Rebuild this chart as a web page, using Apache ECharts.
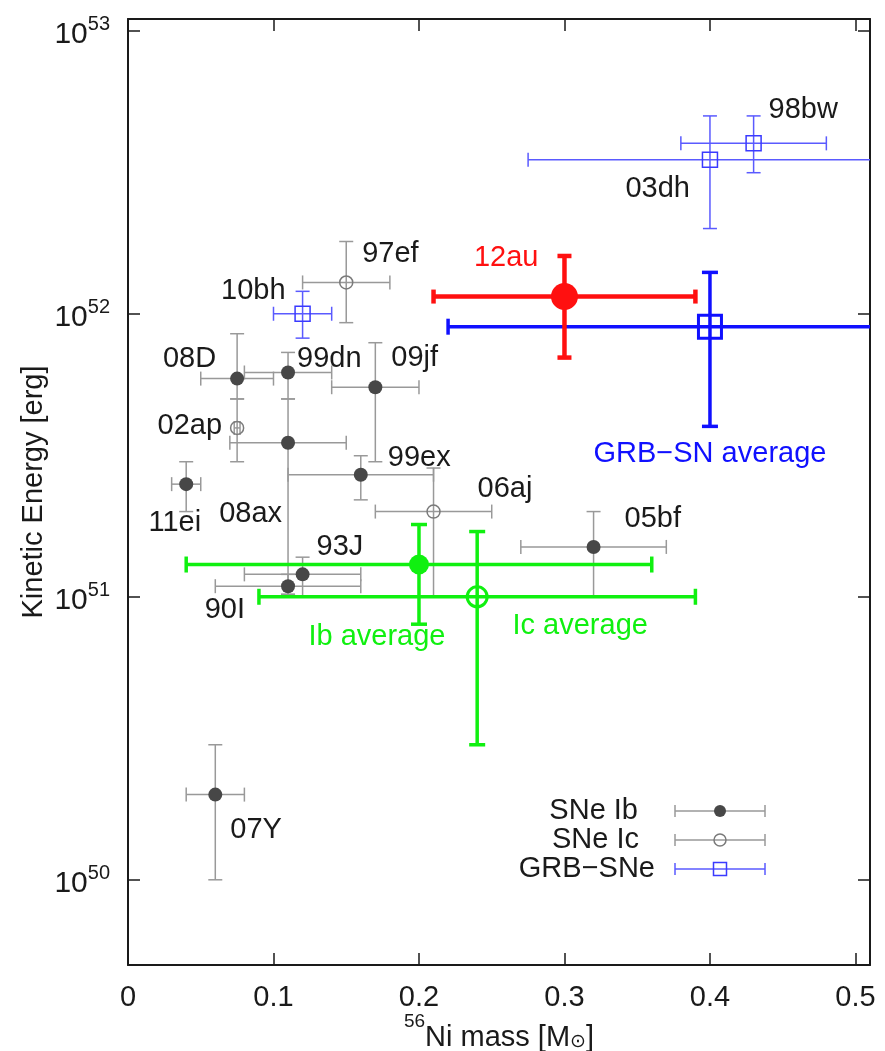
<!DOCTYPE html>
<html>
<head>
<meta charset="utf-8">
<script src="https://cdn.jsdelivr.net/npm/echarts@6/dist/echarts.min.js"></script>
<style>
  html, body { margin: 0; padding: 0; background: #fff; }
  #chart { width: 885px; height: 1051px; }
</style>
</head>
<body>
<div id="chart"></div>
<script>
// rows: [name, Ni mass, mass low, mass high, E_k, E low, E high]
const snIb = [
  ['08D', 0.075, 0.05, 0.10, 5.9e51, 5.0e51, 8.5e51],
  ['99dn', 0.11, 0.08, 0.14, 6.2e51, 5.0e51, 7.3e51],
  ['09jf', 0.17, 0.14, 0.20, 5.5e51, 3.0e51, 7.9e51],
  ['08ax', 0.11, 0.07, 0.15, 3.5e51, 1.02e51, 5.0e51],
  ['99ex', 0.16, 0.11, 0.21, 2.7e51, 2.2e51, 3.15e51],
  ['11ei', 0.04, 0.03, 0.05, 2.5e51, 2.0e51, 3.0e51],
  ['05bf', 0.32, 0.27, 0.37, 1.5e51, 1.0e51, 2.0e51],
  ['93J', 0.12, 0.08, 0.16, 1.2e51, 1.0e51, 1.38e51],
  ['90I', 0.11, 0.06, 0.16, 1.09e51, 1.02e51, 1.2e51],
  ['07Y', 0.06, 0.04, 0.08, 2.0e50, 1.0e50, 3.0e50],
];
const snIc = [
  ['97ef', 0.15, 0.12, 0.18, 1.29e52, 9.3e51, 1.8e52],
  ['02ap', 0.075, 0.073, 0.077, 3.95e51, 3.0e51, 5.0e51],
  ['06aj', 0.21, 0.17, 0.25, 2.0e51, 1.0e51, 2.85e51],
];
const grbSne = [
  ['98bw', 0.43, 0.38, 0.48, 4.0e52, 3.15e52, 5.0e52],
  ['03dh', 0.40, 0.275, 0.525, 3.5e52, 2.0e52, 5.0e52],
  ['10bh', 0.12, 0.10, 0.14, 1.0e52, 8.2e51, 1.2e52],
];
const ibAverage = [['Ib average', 0.20, 0.04, 0.36, 1.3e51, 8.0e50, 1.8e51]];
const icAverage = [['Ic average', 0.24, 0.09, 0.39, 1.0e51, 3.0e50, 1.7e51]];
const grbAverage = [['GRB\u2212SN average', 0.40, 0.22, 0.58, 9.0e51, 4.0e51, 1.4e52]];
const sn12au = [['12au', 0.30, 0.21, 0.39, 1.15e52, 7.0e51, 1.6e52]];

const xTicks = [0, 0.1, 0.2, 0.3, 0.4, 0.5];
const legendNames = ['SNe Ib', 'SNe Ic', 'GRB\u2212SNe'];

// label placement relative to the point, in px
const labelPos = {
  '98bw': [15, -33, 'left'], '03dh': [-20, 29, 'right'], '97ef': [16, -28, 'left'],
  '12au': [-26, -39, 'right'], '10bh': [-17, -23, 'right'], '08D': [-21, -20, 'right'],
  '99dn': [9, -14, 'left'], '09jf': [16, -29, 'left'], '02ap': [-15, -2, 'right'],
  '99ex': [27, -17, 'left'], '06aj': [44, -23, 'left'], '11ei': [15, 39, 'right'],
  '08ax': [-6, 71, 'right'], '93J': [14, -27, 'left'], '90I': [-43, 24, 'right'],
  '05bf': [31, -28, 'left'], '07Y': [15, 35, 'left'],
  'GRB\u2212SN average': [0, 127, 'center'], 'Ib average': [-42, 72, 'center'],
  'Ic average': [103, 29, 'center'],
};

const FONT = '29px "Liberation Sans", Arial, sans-serif';
const GRAY = '#999999';

const styles = {
  ib: { line: GRAY, width: 1.5, cap: 7, marker: 'dot', size: 7, color: '#474747', text: '#1a1a1a' },
  ic: { line: GRAY, width: 1.5, cap: 7, marker: 'ring', size: 6.5, color: '#7a7a7a', mw: 1.5, text: '#1a1a1a' },
  grb: { line: '#5a5aff', width: 1.5, cap: 7, marker: 'square', size: 15, color: '#3a3aff', mw: 1.5, text: '#1a1a1a' },
  ibAvg: { line: '#10f010', width: 3.5, cap: 8, marker: 'dot', size: 10, color: '#10f010', text: '#10f010' },
  icAvg: { line: '#10f010', width: 3.5, cap: 8, marker: 'ring', size: 10, color: '#10f010', mw: 3, text: '#10f010' },
  grbAvg: { line: '#1010ff', width: 3.5, cap: 8, marker: 'square', size: 23, color: '#1010ff', mw: 3, text: '#1010ff' },
  au: { line: '#ff1010', width: 4.5, cap: 7, marker: 'dot', size: 13.5, color: '#ff1010', text: '#ff1010' },
};

function seg(x1, y1, x2, y2, st) {
  return { type: 'line', shape: { x1, y1, x2, y2 }, style: { stroke: st.line, lineWidth: st.width }, z2: 1 };
}

function markerEl(p, st) {
  if (st.marker === 'dot') {
    return { type: 'circle', shape: { cx: p[0], cy: p[1], r: st.size }, style: { fill: st.color }, z2: 5 };
  }
  if (st.marker === 'ring') {
    return { type: 'circle', shape: { cx: p[0], cy: p[1], r: st.size }, style: { fill: 'none', stroke: st.color, lineWidth: st.mw }, z2: 5 };
  }
  const h = st.size / 2;
  return { type: 'rect', shape: { x: p[0] - h, y: p[1] - h, width: st.size, height: st.size }, style: { fill: 'none', stroke: st.color, lineWidth: st.mw }, z2: 5 };
}

function errorSeries(rows, st, z) {
  return {
    type: 'custom',
    coordinateSystem: 'cartesian2d',
    clip: true,
    z,
    encode: { x: [0, 1, 2], y: [3, 4, 5] },
    data: rows.map((r) => r.slice(1)),
    renderItem(params, api) {
      const r = rows[params.dataIndex];
      const p = api.coord([r[1], r[4]]);
      const xl = api.coord([r[2], r[4]])[0];
      const xh = api.coord([r[3], r[4]])[0];
      const yl = api.coord([r[1], r[5]])[1];
      const yh = api.coord([r[1], r[6]])[1];
      const c = st.cap;
      const children = [
        seg(xl, p[1], xh, p[1], st),
        seg(p[0], yh, p[0], yl, st),
        seg(xl, p[1] - c, xl, p[1] + c, st),
        seg(xh, p[1] - c, xh, p[1] + c, st),
        seg(p[0] - c, yh, p[0] + c, yh, st),
        seg(p[0] - c, yl, p[0] + c, yl, st),
        markerEl(p, st),
      ];
      const lp = labelPos[r[0]];
      if (lp) {
        children.push({
          type: 'text', x: p[0] + lp[0], y: p[1] + lp[1], z2: 10,
          style: { text: r[0], font: FONT, fill: st.text, align: lp[2], verticalAlign: 'middle' },
        });
      }
      return { type: 'group', children };
    },
  };
}

function legendGraphic() {
  const keys = ['ib', 'ic', 'grb'];
  const textRight = [638, 639, 655];
  const out = [];
  legendNames.forEach((name, i) => {
    const st = styles[keys[i]];
    const y = 811 + 29 * i;
    const small = Object.assign({}, st, st.marker === 'square' ? { size: 13 } : { size: 6 });
    out.push({ type: 'text', x: textRight[i], y, style: { text: name, font: FONT, fill: '#1a1a1a', align: 'right', verticalAlign: 'middle' } });
    out.push(seg(675, y, 765, y, st), seg(675, y - 6, 675, y + 6, st), seg(765, y - 6, 765, y + 6, st));
    out.push(markerEl([720, y], small));
  });
  return out;
}

const chart = echarts.init(document.getElementById('chart'));

const frameLine = { show: true, onZero: false, lineStyle: { color: '#1a1a1a', width: 2 } };
const tickIn = { show: true, inside: true, length: 12, lineStyle: { color: '#1a1a1a', width: 1.5 } };

chart.setOption({
  animation: false,
  backgroundColor: '#ffffff',
  grid: { left: 128, right: 15, top: 19, bottom: 86, containLabel: false, outerBoundsMode: 'none' },
  xAxis: [
    {
      type: 'value', min: 0, max: 0.51, interval: 0.1, position: 'bottom',
      axisLine: frameLine, axisTick: tickIn, splitLine: { show: false },
      axisLabel: {
        margin: 18, color: '#1a1a1a', fontSize: 29, fontFamily: 'Liberation Sans',
        showMaxLabel: false,
        formatter: (v) => (xTicks.some((t) => Math.abs(t - v) < 1e-9) ? String(+v.toFixed(1)) : ''),
      },
      name: '{s|56}{n|Ni mass [M}{o|\u2299}{n|]}',
      nameLocation: 'middle', nameGap: 47, nameMoveOverlap: false,
      nameTextStyle: {
        color: '#1a1a1a', fontFamily: 'Liberation Sans',
        rich: {
          n: { fontSize: 29, lineHeight: 40, verticalAlign: 'bottom', fontFamily: 'Liberation Sans', color: '#1a1a1a' },
          s: { fontSize: 19, lineHeight: 19, verticalAlign: 'top', fontFamily: 'Liberation Sans', color: '#1a1a1a' },
          o: { fontSize: 19, lineHeight: 28, verticalAlign: 'bottom', fontFamily: 'DejaVu Sans', color: '#1a1a1a' },
        },
      },
    },
    {
      type: 'value', min: 0, max: 0.51, interval: 0.1, position: 'top',
      axisLine: frameLine, axisTick: tickIn, axisLabel: { show: false }, splitLine: { show: false },
    },
  ],
  yAxis: [
    {
      type: 'log', logBase: 10, min: 5e49, max: 1.1e53, position: 'left',
      axisLine: frameLine, axisTick: tickIn, splitLine: { show: false }, minorTick: { show: false },
      axisLabel: {
        margin: 18, showMinLabel: false, showMaxLabel: false, padding: [8, 0, 0, 0],
        formatter: (v) => '{b|10}{s|' + Math.round(Math.log10(v)) + '}',
        rich: {
          b: { fontSize: 30, lineHeight: 40, fontFamily: 'Liberation Sans', color: '#1a1a1a' },
          s: { fontSize: 20, lineHeight: 19, verticalAlign: 'top', fontFamily: 'Liberation Sans', color: '#1a1a1a' },
        },
      },
      name: 'Kinetic Energy [erg]', nameLocation: 'middle', nameGap: 80, nameRotate: 90, nameMoveOverlap: false,
      nameTextStyle: { fontSize: 29, fontFamily: 'Liberation Sans', color: '#1a1a1a' },
    },
    {
      type: 'log', logBase: 10, min: 5e49, max: 1.1e53, position: 'right',
      axisLine: frameLine, axisTick: tickIn, axisLabel: { show: false }, splitLine: { show: false },
    },
  ],
  series: [
    errorSeries(snIb, styles.ib, 2),
    errorSeries(snIc, styles.ic, 3),
    errorSeries(grbSne, styles.grb, 4),
    errorSeries(ibAverage, styles.ibAvg, 5),
    errorSeries(icAverage, styles.icAvg, 6),
    errorSeries(grbAverage, styles.grbAvg, 7),
    errorSeries(sn12au, styles.au, 8),
  ],
  graphic: legendGraphic(),
});
</script>
</body>
</html>
